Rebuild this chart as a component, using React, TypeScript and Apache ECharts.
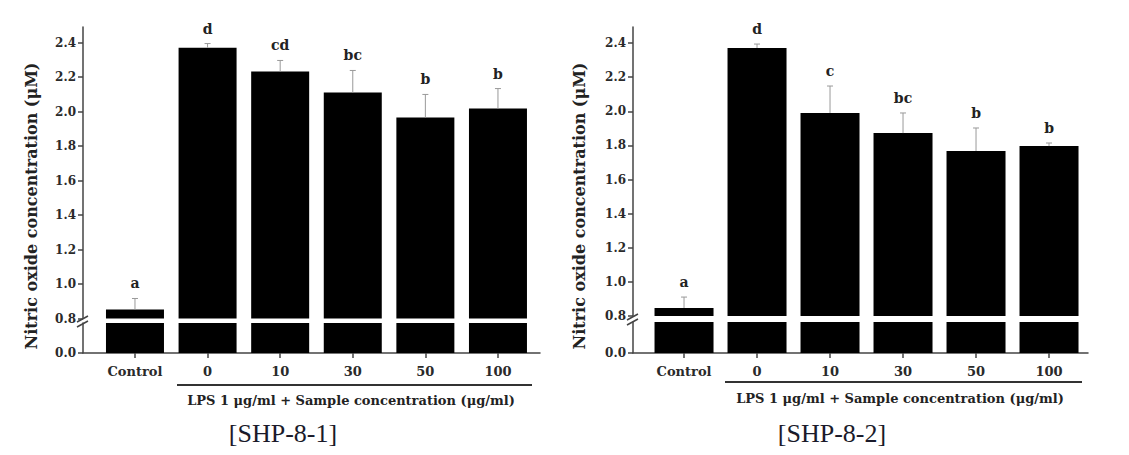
import React, { useEffect, useRef } from "react";
import * as echarts from "echarts";

const categories = ["Control", "0", "10", "30", "50", "100"];
const yTicksUpper = [0.8, 1.0, 1.2, 1.4, 1.6, 1.8, 2.0, 2.2, 2.4];
const yTicksLower = [0.0];

const leftMeans = [0.852, 2.37, 2.232, 2.11, 1.965, 2.017];
const leftSD = [0.064, 0.024, 0.064, 0.128, 0.134, 0.116];
const leftLetters = ["a", "d", "cd", "bc", "b", "b"];

const rightMeans = [0.847, 2.371, 1.99, 1.872, 1.767, 1.796];
const rightSD = [0.064, 0.023, 0.158, 0.118, 0.135, 0.018];
const rightLetters = ["a", "d", "c", "bc", "b", "b"];

const yTitle = "Nitric oxide concentration (\u03bcM)";
const xTitle = "LPS 1 \u03bcg/ml + Sample concentration (\u03bcg/ml)";
const captions = ["[SHP-8-1]", "[SHP-8-2]"];

const BREAK_LOW = 0.8;
const AXIS = "#444";
const LABEL = "#2a2a2a";
const FONT = "DejaVu Serif";

function buildPanel(idx: number, geo: any, means: number[], sd: number[], letters: string[]) {
  const gU = idx * 2;
  const gL = idx * 2 + 1;
  const grids = [
    { left: geo.left, top: geo.top, width: geo.width, height: geo.upperH },
    { left: geo.left, top: geo.lowerTop, width: geo.width, height: geo.lowerH },
  ];
  const xAxes = [
    { gridIndex: gU, type: "value", min: geo.xmin, max: geo.xmax, show: false },
    {
      gridIndex: gL,
      type: "value",
      min: geo.xmin,
      max: geo.xmax,
      splitLine: { show: false },
      axisLine: { onZero: false, lineStyle: { color: AXIS, width: 1.5 } },
      axisTick: { customValues: categories.map((_, i) => i), length: 5, lineStyle: { color: AXIS, width: 1.5 } },
      axisLabel: {
        customValues: categories.map((_, i) => i),
        formatter: (v: number) => categories[Math.round(v)],
        margin: 12,
        color: LABEL,
        fontFamily: FONT,
        fontWeight: "bold",
        fontSize: 13,
      },
    },
  ];
  const yAxes = [
    {
      gridIndex: gU,
      type: "value",
      min: BREAK_LOW,
      max: geo.ymax,
      splitLine: { show: false },
      axisLine: { show: true, onZero: false, lineStyle: { color: AXIS, width: 1.5 } },
      axisTick: { show: true, customValues: yTicksUpper, length: 5, lineStyle: { color: AXIS, width: 1.5 } },
      axisLabel: {
        customValues: yTicksUpper,
        formatter: (v: number) => v.toFixed(1),
        margin: 7,
        color: LABEL,
        fontFamily: FONT,
        fontWeight: "bold",
        fontSize: 12,
      },
    },
    {
      gridIndex: gL,
      type: "value",
      min: 0,
      max: BREAK_LOW,
      splitLine: { show: false },
      axisLine: { show: true, onZero: false, lineStyle: { color: AXIS, width: 1.5 } },
      axisTick: { show: true, customValues: yTicksLower, length: 5, lineStyle: { color: AXIS, width: 1.5 } },
      axisLabel: {
        customValues: yTicksLower,
        formatter: (v: number) => v.toFixed(1),
        margin: 7,
        color: LABEL,
        fontFamily: FONT,
        fontWeight: "bold",
        fontSize: 12,
      },
    },
  ];
  const series = [
    {
      type: "bar",
      xAxisIndex: gU,
      yAxisIndex: gU,
      barWidth: geo.barW,
      clip: true,
      itemStyle: { color: "#000" },
      data: means.map((v, i) => [i, v]),
    },
    {
      type: "bar",
      xAxisIndex: gL,
      yAxisIndex: gL,
      barWidth: geo.barW,
      itemStyle: { color: "#000" },
      data: means.map((v, i) => [i, Math.min(v, BREAK_LOW)]),
    },
    {
      type: "custom",
      xAxisIndex: gU,
      yAxisIndex: gU,
      z: 5,
      data: means.map((v, i) => [i, v, v + sd[i]]),
      renderItem: (params: any, api: any) => {
        const x = api.value(0);
        const p0 = api.coord([x, api.value(1)]);
        const p1 = api.coord([x, api.value(2)]);
        return {
          type: "group",
          children: [
            { type: "line", shape: { x1: p0[0], y1: p0[1], x2: p1[0], y2: p1[1] }, style: { stroke: "#999", lineWidth: 1 } },
            { type: "line", shape: { x1: p1[0] - 3, y1: p1[1], x2: p1[0] + 3, y2: p1[1] }, style: { stroke: "#999", lineWidth: 1 } },
            {
              type: "text",
              x: p1[0],
              y: p1[1] - 15,
              style: {
                text: letters[params.dataIndex],
                fill: "#222",
                font: `bold 14px "${FONT}"`,
                align: "center",
                verticalAlign: "middle",
              },
            },
          ],
        };
      },
    },
  ];
  const ax = geo.left;
  const bm = geo.breakY;
  const graphics = [
    {
      type: "text",
      x: geo.titleX,
      y: 206,
      rotation: Math.PI / 2,
      style: { text: yTitle, fill: "#222", font: `bold 16px "${FONT}"`, align: "center", verticalAlign: "middle" },
    },
    { type: "line", shape: { x1: ax - 6, y1: bm + 2, x2: ax + 5, y2: bm - 4 }, style: { stroke: AXIS, lineWidth: 1.5 } },
    { type: "line", shape: { x1: ax - 6, y1: bm + 7, x2: ax + 5, y2: bm + 1 }, style: { stroke: AXIS, lineWidth: 1.5 } },
    { type: "line", shape: { x1: geo.lineX1, y1: geo.lineY, x2: geo.lineX2, y2: geo.lineY }, style: { stroke: "#333", lineWidth: 2 } },
    {
      type: "text",
      x: geo.xTitleX,
      y: geo.xTitleY,
      style: { text: xTitle, fill: "#222", font: `bold 13px "${FONT}"`, align: "center", verticalAlign: "middle" },
    },
    {
      type: "text",
      x: geo.capX,
      y: 433,
      style: { text: captions[idx], fill: "#1a1a2a", font: `26px "Liberation Serif"`, align: "center", verticalAlign: "middle" },
    },
  ];
  return { grids, xAxes, yAxes, series, graphics };
}

export default function App() {
  const ref = useRef<HTMLDivElement>(null);
  useEffect(() => {
    if (!ref.current) return;
    const chart = echarts.init(ref.current, undefined, { renderer: "svg" });
    const left = buildPanel(
      0,
      {
        left: 83, top: 27, width: 457, upperH: 291.5, lowerTop: 323, lowerH: 30,
        xmin: -0.716, xmax: 5.579, ymax: 2.49, barW: 58, breakY: 320,
        titleX: 31, lineX1: 177, lineX2: 532, lineY: 385, xTitleX: 351, xTitleY: 400, capX: 283,
      },
      leftMeans, leftSD, leftLetters
    );
    const right = buildPanel(
      1,
      {
        left: 633, top: 27, width: 455, upperH: 289, lowerTop: 322, lowerH: 31,
        xmin: -0.699, xmax: 5.534, ymax: 2.494, barW: 59, breakY: 318,
        titleX: 579, lineX1: 725, lineX2: 1082, lineY: 382, xTitleX: 900, xTitleY: 398, capX: 832,
      },
      rightMeans, rightSD, rightLetters
    );
    chart.setOption({
      animation: false,
      backgroundColor: "#fff",
      grid: [...left.grids, ...right.grids],
      xAxis: [...left.xAxes, ...right.xAxes],
      yAxis: [...left.yAxes, ...right.yAxes],
      series: [...left.series, ...right.series],
      graphic: [...left.graphics, ...right.graphics],
    });
    return () => chart.dispose();
  }, []);
  return (
    <div
      ref={ref}
      style={{ position: "fixed", left: 0, top: 0, width: 1129, height: 455, background: "#fff" }}
    />
  );
}
